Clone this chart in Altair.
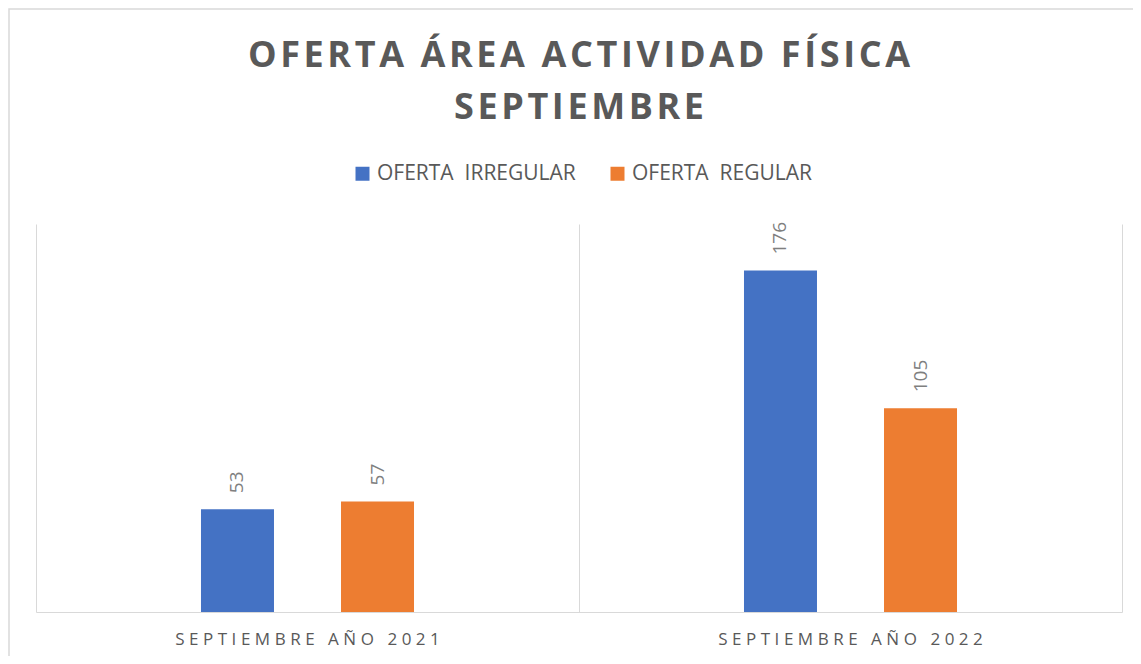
import altair as alt
import pandas as pd

# ---- data ----
categories = ["SEPTIEMBRE AÑO 2021", "SEPTIEMBRE AÑO 2022"]
series = ["OFERTA IRREGULAR", "OFERTA REGULAR"]
irregular = [53, 176]
regular = [57, 105]
colors = ["#4472C4", "#ED7D31"]
title_lines = ["OFERTA ÁREA ACTIVIDAD FÍSICA", "SEPTIEMBRE"]

rows = []
for i, c in enumerate(categories):
    rows.append({"cat": c, "serie": series[0], "valor": irregular[i]})
    rows.append({"cat": c, "serie": series[1], "valor": regular[i]})
df = pd.DataFrame(rows)

HAIR = "\u200a"
spaced_title = [HAIR.join(list(t)) for t in title_lines]

W, H = 1086, 388
GRID = "#d9d9d9"
FONT = "Open Sans"

x_enc = alt.X(
    "cat:N",
    sort=categories,
    scale=alt.Scale(paddingInner=0, paddingOuter=0),
    axis=alt.Axis(
        title=None,
        orient="bottom",
        domain=True,
        domainColor=GRID,
        domainWidth=1,
        ticks=False,
        grid=True,
        gridColor=GRID,
        gridWidth=1,
        bandPosition=0,
        labelFont=FONT,
        labelFontSize=17,
        labelColor="#595959",
        labelPadding=19,
        labelAngle=0,
        labelLimit=400,
        labelExpr="join(split(datum.label, ''), '\u2009\u200a')",
    ),
)
xoff_enc = alt.XOffset(
    "serie:N",
    sort=series,
    scale=alt.Scale(paddingInner=0, paddingOuter=0.939),
)
y_enc = alt.Y(
    "valor:Q",
    scale=alt.Scale(domain=[0, 200], nice=False, zero=True),
    axis=alt.Axis(
        title=None,
        orient="right",
        domain=True,
        domainColor=GRID,
        domainWidth=1,
        ticks=False,
        labels=False,
        grid=False,
    ),
)

border = alt.Chart(alt.Data(values=[{"a": 1}])).mark_rect(
    fillOpacity=0, stroke=GRID, strokeWidth=1.5, clip=False
).encode(
    x=alt.value(-27), x2=alt.value(W + 40), y=alt.value(-215), y2=alt.value(H + 80)
)

bars = alt.Chart(df).mark_bar(width=73).encode(
    x=x_enc,
    xOffset=xoff_enc,
    y=y_enc,
    color=alt.Color(
        "serie:N",
        sort=series,
        scale=alt.Scale(domain=series, range=colors),
        legend=alt.Legend(
            title=None,
            orient="none",
            direction="horizontal",
            legendX=316,
            legendY=-61,
            symbolType="square",
            symbolSize=196,
            symbolStrokeWidth=0,
            labelFont=FONT,
            labelFontSize=21,
            labelColor="#595959",
            labelOffset=4,
            labelLimit=400,
            columnPadding=31,
            padding=0,
            labelExpr="replace(datum.label, ' ', '\u00a0 ')",
        ),
    ),
)

labels = alt.Chart(df).mark_text(
    angle=270, align="left", baseline="middle", dx=16,
    font=FONT, fontSize=19, color="#7f7f7f",
).encode(
    x=x_enc,
    xOffset=xoff_enc,
    y=y_enc,
    text=alt.Text("valor:Q"),
)

chart = alt.layer(border, bars, labels).properties(
    width=W,
    height=H,
    autosize=alt.AutoSizeParams(type="none"),
    padding={"left": 28, "top": 216, "right": 11, "bottom": 44},
    view=alt.ViewBackground(stroke="transparent", strokeWidth=0),
    title=alt.TitleParams(
        text=spaced_title,
        anchor="middle",
        font=FONT,
        fontSize=36,
        fontWeight="bold",
        color="#595959",
        lineHeight=52,
        offset=-119,
    ),
).configure_view(strokeWidth=0, stroke="transparent").configure(background="white")

chart.save("out.html", embed_options={"renderer": "svg", "actions": False})
